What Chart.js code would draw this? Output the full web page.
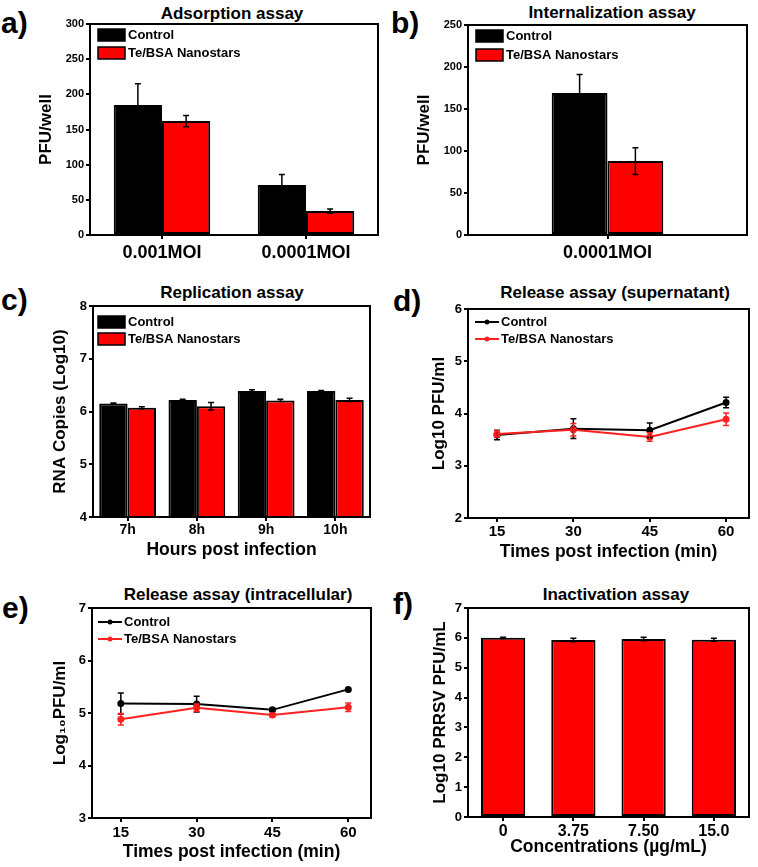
<!DOCTYPE html>
<html>
<head>
<meta charset="utf-8">
<script src="https://cdn.jsdelivr.net/npm/chart.js@4.4.1/dist/chart.umd.min.js"></script>
<style>
  body { margin: 0; background: #fff; width: 758px; height: 867px; position: relative; overflow: hidden;
         font-family: "Liberation Sans", Arial, sans-serif; font-weight: bold; color: #000; }
  .box { position: absolute; }
  .lab { position: absolute; font-size: 30px; line-height: 1; }
  .ttl { position: absolute; font-size: 17px; line-height: 1; white-space: nowrap; transform: translateX(-50%); }
</style>
</head>
<body>
<div class="lab" style="left:1px;top:8px">a)</div>
<div class="lab" style="left:391px;top:8px">b)</div>
<div class="lab" style="left:1px;top:285px">c)</div>
<div class="lab" style="left:393px;top:286px">d)</div>
<div class="lab" style="left:2px;top:593px">e)</div>
<div class="lab" style="left:393px;top:589px">f)</div>

<div class="ttl" style="left:232px;top:5px">Adsorption assay</div>
<div class="ttl" style="left:612px;top:4px">Internalization assay</div>
<div class="ttl" style="left:232px;top:284px">Replication assay</div>
<div class="ttl" style="left:615px;top:284px">Release assay (supernatant)</div>
<div class="ttl" style="left:238px;top:586px">Release assay (intracellular)</div>
<div class="ttl" style="left:616px;top:586px">Inactivation assay</div>

<div class="box" id="boxA"><canvas id="chartA"></canvas></div>
<div class="box" id="boxB"><canvas id="chartB"></canvas></div>
<div class="box" id="boxC"><canvas id="chartC"></canvas></div>
<div class="box" id="boxD"><canvas id="chartD"></canvas></div>
<div class="box" id="boxE"><canvas id="chartE"></canvas></div>
<div class="box" id="boxF"><canvas id="chartF"></canvas></div>

<script>
const seriesNames = ["Control", "Te/BSA Nanostars"];

// a) adsorption assay
const adsLabels = ["0.001MOI", "0.0001MOI"];
const adsControl = [185, 71];
const adsControlErr = [30, 15];
const adsNano = [162, 34];
const adsNanoErr = [8, 3];

// b) internalization assay
const intLabels = ["0.0001MOI"];
const intControl = [169];
const intControlErr = [22];
const intNano = [88];
const intNanoErr = [16];

// c) replication assay
const repLabels = ["7h", "8h", "9h", "10h"];
const repControl = [6.15, 6.22, 6.39, 6.39];
const repControlErr = [0.01, 0.01, 0.02, 0.01];
const repNano = [6.07, 6.10, 6.21, 6.22];
const repNanoErr = [0.02, 0.07, 0.02, 0.03];

// d) release assay (supernatant), e) release assay (intracellular)
const timePoints = [15, 30, 45, 60];
const supControl = [3.59, 3.71, 3.68, 4.21];
const supControlErr = [0.09, 0.19, 0.14, 0.10];
const supNano = [3.61, 3.69, 3.55, 3.89];
const supNanoErr = [0.06, 0.12, 0.08, 0.12];
const intraControl = [5.18, 5.17, 5.06, 5.45];
const intraControlErr = [0.20, 0.15, 0.03, 0.02];
const intraNano = [4.88, 5.10, 4.96, 5.11];
const intraNanoErr = [0.11, 0.07, 0.03, 0.08];

// f) inactivation assay
const concLabels = ["0", "3.75", "7.50", "15.0"];
const inactValues = [6.00, 5.93, 5.96, 5.94];
const inactErr = [0.02, 0.06, 0.06, 0.05];

const RED = "#ff0000";
const FONT = '"Liberation Sans", Arial, sans-serif';
Chart.defaults.font.family = FONT;
Chart.defaults.font.weight = "bold";
Chart.defaults.color = "#000";
Chart.defaults.animation = false;

// error bars, drawn from the y scale
const errorBars = {
  id: "errorBars",
  afterDatasetsDraw(chart) {
    const { ctx } = chart;
    const yScale = chart.scales.y;
    chart.data.datasets.forEach((ds, i) => {
      if (!ds.errors) return;
      const meta = chart.getDatasetMeta(i);
      ctx.save();
      ctx.strokeStyle = ds.errorColor || "#000";
      ctx.lineWidth = 1.5;
      meta.data.forEach((el, j) => {
        const raw = ds.data[j];
        const v = typeof raw === "object" ? raw.y : raw;
        const top = yScale.getPixelForValue(v + ds.errors[j]);
        const bot = yScale.getPixelForValue(v - ds.errors[j]);
        ctx.beginPath();
        ctx.moveTo(el.x, top); ctx.lineTo(el.x, bot);
        ctx.moveTo(el.x - 3, top); ctx.lineTo(el.x + 3, top);
        ctx.moveTo(el.x - 3, bot); ctx.lineTo(el.x + 3, bot);
        ctx.stroke();
      });
      ctx.restore();
    });
  }
};

// black frame round the plot
const frame = {
  id: "frame",
  afterDraw(chart) {
    const { ctx, chartArea: a } = chart;
    ctx.save();
    ctx.strokeStyle = "#000";
    ctx.lineWidth = 2;
    ctx.strokeRect(a.left, a.top, a.right - a.left, a.bottom - a.top);
    ctx.restore();
  }
};

// legend inside the plot, top left
const insideLegend = {
  id: "insideLegend",
  afterDraw(chart, args, opts) {
    if (!opts.kind) return;
    const { ctx, chartArea } = chart;
    ctx.save();
    ctx.font = "bold 13px " + FONT;
    ctx.textBaseline = "middle";
    chart.data.datasets.forEach((ds, i) => {
      const x = chartArea.left + opts.left;
      const y = chartArea.top + opts.top + i * opts.gap;
      let tx;
      if (opts.kind === "box") {
        ctx.fillStyle = ds.backgroundColor;
        ctx.fillRect(x, y - 6, 27, 12);
        ctx.lineWidth = 1.5;
        ctx.strokeStyle = "#000";
        ctx.strokeRect(x, y - 6, 27, 12);
        tx = x + 30;
      } else {
        ctx.strokeStyle = ds.borderColor;
        ctx.lineWidth = 2;
        ctx.beginPath(); ctx.moveTo(x, y); ctx.lineTo(x + 24, y); ctx.stroke();
        ctx.fillStyle = ds.borderColor;
        ctx.beginPath(); ctx.arc(x + 12, y, 2.5, 0, Math.PI * 2); ctx.fill();
        tx = x + 26;
      }
      ctx.fillStyle = "#000";
      ctx.fillText(ds.label, tx, y);
    });
    ctx.restore();
  }
};

function yAxis(g) {
  return {
    min: g.yMin, max: g.yMax,
    ticks: { stepSize: g.yStep, font: { size: g.yTick, weight: "bold" }, padding: 2 },
    grid: { drawOnChartArea: false, color: "#000", lineWidth: 2, tickLength: 4 },
    border: { display: false },
    title: { display: true, text: g.yTitle, font: { size: 17, weight: "bold" }, padding: 0 },
    afterFit: s => { s.width = g.yw; }
  };
}

function xAxis(g) {
  const ax = {
    ticks: { font: { size: g.xTick, weight: "bold" }, padding: g.xPad, maxRotation: 0, autoSkip: false },
    grid: { drawOnChartArea: false, color: "#000", lineWidth: 2, tickLength: 4, offset: false },
    border: { display: false },
    title: { display: !!g.xTitle, text: g.xTitle || "", font: { size: 17.5, weight: "bold" }, padding: 0 },
    afterFit: s => { s.height = g.xh; }
  };
  if (g.linear) {
    ax.type = "linear";
    ax.min = 9.3;
    ax.max = 64.5;
    ax.afterBuildTicks = s => { s.ticks = timePoints.map(v => ({ value: v })); };
  }
  return ax;
}

function place(boxId, g) {
  const left = g.L - g.yw, top = g.T - 12;
  const el = document.getElementById(boxId);
  el.style.left = left + "px";
  el.style.top = top + "px";
  el.style.width = (g.R + 6 - left) + "px";
  el.style.height = (g.B + g.xh - top) + "px";
}

function makeChart(id, g, type, labels, datasets, legend) {
  place("box" + id, g);
  return new Chart(document.getElementById("chart" + id), {
    type: type,
    data: { labels: labels, datasets: datasets },
    options: {
      responsive: true,
      maintainAspectRatio: false,
      layout: { padding: { top: 12, right: 6, left: 0, bottom: 0 } },
      scales: { x: xAxis(g), y: yAxis(g) },
      plugins: { legend: { display: false }, tooltip: { enabled: false }, insideLegend: legend || {} }
    },
    plugins: [errorBars, frame, insideLegend]
  });
}

function barSet(label, data, errs, color, cp) {
  return { label, data, errors: errs, backgroundColor: color, borderColor: "#000", borderWidth: 2,
           borderSkipped: false, categoryPercentage: cp, barPercentage: 1 };
}

function lineSet(label, data, errs, color, order) {
  return { label, data: timePoints.map((t, i) => ({ x: t, y: data[i] })), errors: errs, errorColor: color,
           borderColor: color, backgroundColor: color, pointBackgroundColor: color, pointBorderColor: color,
           pointRadius: 2.5, borderWidth: 2, tension: 0, order };
}

// a)
makeChart("A", { L: 90, T: 24, R: 378, B: 235, yw: 54, xh: 32, yMin: 0, yMax: 300, yStep: 50, yTick: 11,
                 yTitle: "PFU/well", xTick: 18, xPad: 3 },
  "bar", adsLabels,
  [barSet(seriesNames[0], adsControl, adsControlErr, "#000", 0.67),
   barSet(seriesNames[1], adsNano, adsNanoErr, RED, 0.67)],
  { kind: "box", left: 8, top: 11, gap: 18 });

// b)
makeChart("B", { L: 468, T: 25, R: 747, B: 235, yw: 54, xh: 32, yMin: 0, yMax: 250, yStep: 50, yTick: 11,
                 yTitle: "PFU/well", xTick: 18, xPad: 3 },
  "bar", intLabels,
  [barSet(seriesNames[0], intControl, intControlErr, "#000", 0.4),
   barSet(seriesNames[1], intNano, intNanoErr, RED, 0.4)],
  { kind: "box", left: 8, top: 11, gap: 19 });

// c)
makeChart("C", { L: 93, T: 306, R: 370, B: 517, yw: 43, xh: 44, yMin: 4, yMax: 8, yStep: 1, yTick: 13,
                 yTitle: "RNA Copies (Log10)", xTick: 14, xPad: 1, xTitle: "Hours post infection" },
  "bar", repLabels,
  [barSet(seriesNames[0], repControl, repControlErr, "#000", 0.82),
   barSet(seriesNames[1], repNano, repNanoErr, RED, 0.82)],
  { kind: "box", left: 5, top: 16, gap: 17 });

// d)
makeChart("D", { L: 468, T: 309, R: 749, B: 518, yw: 39, xh: 45, yMin: 2, yMax: 6, yStep: 1, yTick: 13,
                 yTitle: "Log10 PFU/ml", xTick: 15, xPad: 1, xTitle: "Times post infection (min)", linear: true },
  "line", null,
  [lineSet(seriesNames[0], supControl, supControlErr, "#000", 1),
   lineSet(seriesNames[1], supNano, supNanoErr, "#ff2020", 0)],
  { kind: "line", left: 7, top: 13, gap: 17 });

// e)
makeChart("E", { L: 92, T: 608, R: 371, B: 818, yw: 42, xh: 45, yMin: 3, yMax: 7, yStep: 1, yTick: 13,
                 yTitle: "Log\u2081\u2080PFU/ml", xTick: 15, xPad: 2, xTitle: "Times post infection (min)", linear: true },
  "line", null,
  [lineSet(seriesNames[0], intraControl, intraControlErr, "#000", 1),
   lineSet(seriesNames[1], intraNano, intraNanoErr, "#ff2020", 0)],
  { kind: "line", left: 6, top: 14, gap: 17 });

// f)
makeChart("F", { L: 468, T: 608, R: 749, B: 817, yw: 38, xh: 41, yMin: 0, yMax: 7, yStep: 1, yTick: 13,
                 yTitle: "Log10 PRRSV PFU/mL", xTick: 16, xPad: 1, xTitle: "Concentrations (\u00b5g/mL)" },
  "bar", concLabels,
  [barSet(seriesNames[1], inactValues, inactErr, RED, 0.63)],
  null);
</script>
</body>
</html>
